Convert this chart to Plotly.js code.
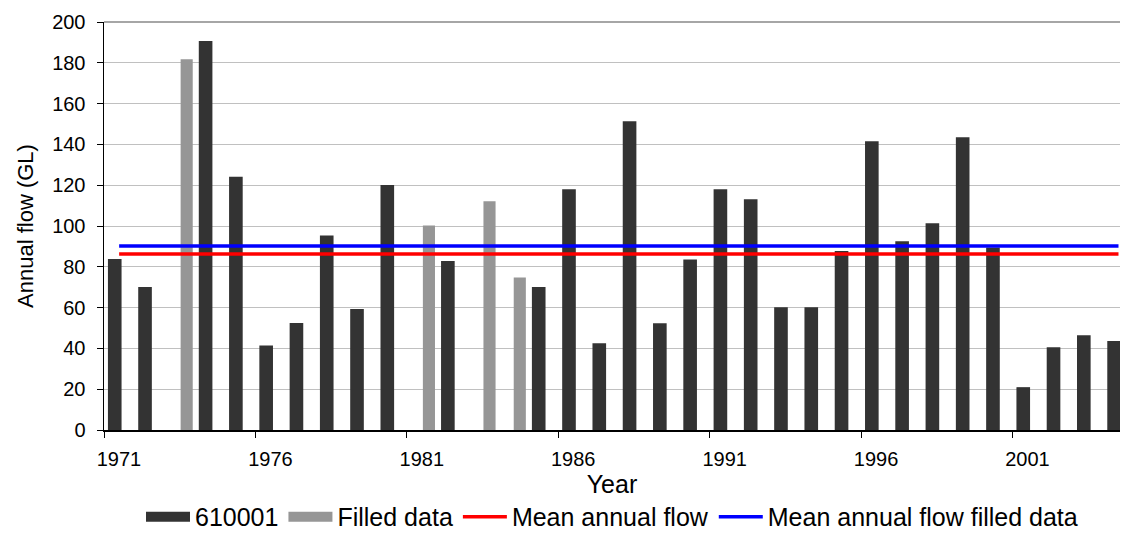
<!DOCTYPE html>
<html>
<head>
<meta charset="utf-8">
<script src="https://cdn.plot.ly/plotly-3.0.1.min.js"></script>
<style>
  html, body { margin: 0; padding: 0; background: #ffffff; }
  #chart { width: 1126px; height: 559px; }
</style>
</head>
<body>
<div id="chart"></div>
<script>
// ---- Data ----
const years = [1971,1972,1973,1974,1975,1976,1977,1978,1979,1980,
               1981,1982,1983,1984,1985,1986,1987,1988,1989,1990,
               1991,1992,1993,1994,1995,1996,1997,1998,1999,2000,
               2001,2002,2003,2004];
// Gauged flow at station 610001 (GL); null = no record
const flow610001 = [83.8,70.1,null,190.7,124.1,41.4,52.4,95.4,59.3,120.1,
                    null,82.8,null,null,70.1,118.0,42.5,151.4,52.3,83.6,
                    118.0,113.1,60.2,60.2,87.7,141.6,92.5,101.3,143.5,89.5,
                    21.0,40.6,46.5,43.6];
// Filled (estimated) annual flow for missing years (GL)
const filledData = [null,null,181.8,null,null,null,null,null,null,null,
                    100.3,null,112.1,74.7,null,null,null,null,null,null,
                    null,null,null,null,null,null,null,null,null,null,
                    null,null,null,null];
const meanAnnualFlow = 86.3;
const meanAnnualFlowFilled = 90.2;
const xTickLabels = ['1971','1976','1981','1986','1991','1996','2001'];
const seriesNames = ['610001','Filled data','Mean annual flow','Mean annual flow filled data'];

// ---- Styling ----
const FONT = 'Liberation Sans, Arial, Helvetica, sans-serif';
const MID = 0.5; // year slot centre for line series
const xTickVals = xTickLabels.map(Number);
const DARK = '#333333', GREY = '#969696';

const traces = [
  {
    type: 'bar', name: seriesNames[0], x: years, y: flow610001,
    width: 0.45, offset: 0.13, legendgroup: 'g0', showlegend: false,
    marker: { color: DARK, line: { width: 0 } }
  },
  {
    type: 'bar', name: seriesNames[1], x: years, y: filledData,
    width: 0.40, offset: 0.53, legendgroup: 'g1', showlegend: false,
    marker: { color: GREY, line: { width: 0 } }
  },
  // legend-only swatches for the two bar series (wide rectangles as in the original)
  {
    type: 'scatter', mode: 'lines', name: seriesNames[0], legendgroup: 'g0',
    x: [null], y: [null], line: { color: DARK, width: 14 }, hoverinfo: 'skip'
  },
  {
    type: 'scatter', mode: 'lines', name: seriesNames[1], legendgroup: 'g1',
    x: [null], y: [null], line: { color: GREY, width: 14 }, hoverinfo: 'skip'
  },
  {
    type: 'scatter', mode: 'lines', name: seriesNames[2],
    x: [years[0] + MID, years[years.length - 1] + MID],
    y: [meanAnnualFlow, meanAnnualFlow],
    line: { color: '#ff0000', width: 3.5 }
  },
  {
    type: 'scatter', mode: 'lines', name: seriesNames[3],
    x: [years[0] + MID, years[years.length - 1] + MID],
    y: [meanAnnualFlowFilled, meanAnnualFlowFilled],
    line: { color: '#0000ff', width: 3.5 }
  }
];

const layout = {
  width: 1126, height: 559,
  margin: { l: 104, r: 6, t: 22, b: 129, pad: 0 },
  paper_bgcolor: '#ffffff', plot_bgcolor: '#ffffff',
  font: { family: FONT, size: 20, color: '#000000' },
  barmode: 'overlay',
  showlegend: true,
  legend: {
    orientation: 'h', x: 0.5, xanchor: 'center', y: -0.213, yanchor: 'middle',
    font: { family: FONT, size: 25, color: '#000000' },
    itemwidth: 44, tracegroupgap: 0, traceorder: 'normal'
  },
  xaxis: {
    type: 'linear', range: [1971, 2004.55],
    tickmode: 'array', tickvals: xTickVals, ticktext: xTickLabels,
    ticks: 'outside', ticklen: 6, tickwidth: 1, tickcolor: '#000000',
    ticklabelshift: 15, ticklabelstandoff: 4,
    showgrid: false, zeroline: false,
    showline: true, linecolor: '#000000', linewidth: 1.5,
    tickfont: { family: FONT, size: 20, color: '#000000' },
    title: { text: 'Year', font: { family: FONT, size: 25, color: '#000000' }, standoff: 4 },
    automargin: false, fixedrange: true
  },
  yaxis: {
    range: [0, 200], dtick: 20, tick0: 0,
    ticks: 'outside', ticklen: 6, tickwidth: 1, tickcolor: '#000000',
    ticklabelstandoff: 7,
    showgrid: true, gridcolor: '#c0c0c0', gridwidth: 1,
    zeroline: false,
    showline: true, linecolor: '#000000', linewidth: 1.5,
    tickfont: { family: FONT, size: 20, color: '#000000' },
    title: { text: 'Annual flow (GL)', font: { family: FONT, size: 22, color: '#000000' }, standoff: 12 },
    automargin: false, fixedrange: true
  },
  shapes: [
    { type: 'line', xref: 'paper', x0: 0, x1: 1, yref: 'paper', y0: 1, y1: 1,
      line: { color: '#888888', width: 1.5 }, layer: 'below' }
  ]
};

Plotly.newPlot('chart', traces, layout, { displayModeBar: false, staticPlot: true });
</script>
</body>
</html>
